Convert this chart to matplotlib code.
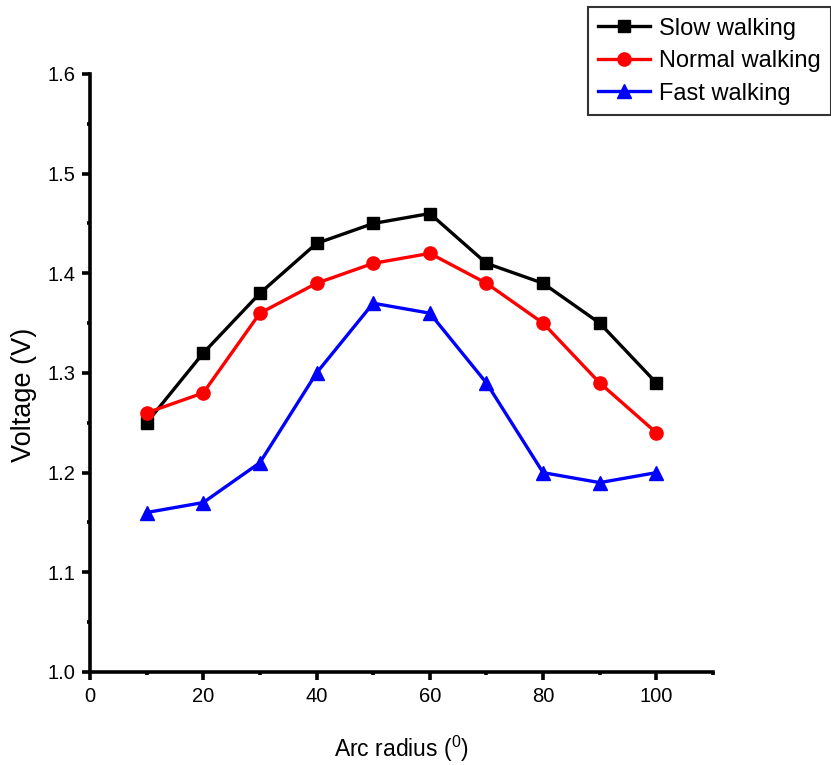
# Voltage vs arc radius for three walking speeds
import numpy as np
import matplotlib
matplotlib.use('Agg')
import matplotlib.pyplot as plt
from matplotlib.ticker import MultipleLocator

plt.rcParams['font.family'] = ['Liberation Sans', 'DejaVu Sans']
plt.rcParams['mathtext.fontset'] = 'custom'
plt.rcParams['mathtext.rm'] = 'Liberation Sans'
plt.rcParams['mathtext.it'] = 'Liberation Sans'

# ---- data ----
arc_radius = [10, 20, 30, 40, 50, 60, 70, 80, 90, 100]
slow = [1.25, 1.32, 1.38, 1.43, 1.45, 1.46, 1.41, 1.39, 1.35, 1.29]
normal = [1.26, 1.28, 1.36, 1.39, 1.41, 1.42, 1.39, 1.35, 1.29, 1.24]
fast = [1.16, 1.17, 1.21, 1.30, 1.37, 1.36, 1.29, 1.20, 1.19, 1.20]

fig = plt.figure(figsize=(8.31, 7.65), dpi=100)
ax = fig.add_axes([0.1083, 0.1216, 0.7497, 0.7817])

ax.plot(arc_radius, slow, color='black', lw=2.4, marker='s', ms=8.5, label='Slow walking')
ax.plot(arc_radius, normal, color='red', lw=2.4, marker='o', ms=9.5, label='Normal walking')
ax.plot(arc_radius, fast, color='blue', lw=2.4, marker='^', ms=9.5, label='Fast walking')

ax.set_xlim(0, 110)
ax.set_ylim(1.0, 1.6)
ax.xaxis.set_major_locator(MultipleLocator(20))
ax.xaxis.set_minor_locator(MultipleLocator(10))
ax.yaxis.set_major_locator(MultipleLocator(0.1))
ax.yaxis.set_minor_locator(MultipleLocator(0.05))
ax.set_xticks([0, 20, 40, 60, 80, 100])
ax.set_yticks(np.arange(1.0, 1.61, 0.1))
ax.set_yticklabels(['1.0', '1.1', '1.2', '1.3', '1.4', '1.5', '1.6'])

for s in ['top', 'right']:
    ax.spines[s].set_visible(False)
for s in ['left', 'bottom']:
    ax.spines[s].set_linewidth(2.6)

ax.tick_params(which='major', direction='out', length=5.5, width=2.6, labelsize=14.5, pad=5)
ax.tick_params(which='minor', direction='out', length=2.5, width=2.6)

ax.set_xlabel('Arc radius ($^0$)', fontsize=16.5, labelpad=20)
ax.set_ylabel('Voltage (V)', fontsize=19.5)
ax.yaxis.set_label_coords(-0.085, 0.463)

leg = fig.legend(loc='upper right', bbox_to_anchor=(1.0, 0.991), fontsize=17,
                 frameon=True, fancybox=False, edgecolor='black',
                 handlelength=2.2, handletextpad=0.35, labelspacing=0.45,
                 borderpad=0.45, borderaxespad=0)
leg.get_frame().set_linewidth(1.5)

plt.savefig('out.png', dpi=100)
plt.close()
